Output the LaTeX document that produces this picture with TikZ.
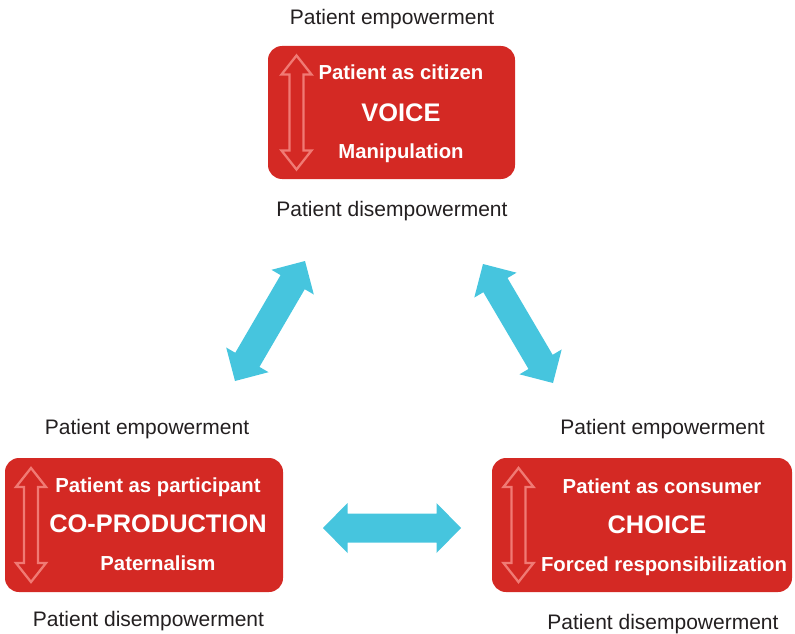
\documentclass[tikz,border=0pt]{standalone}
\usepackage{fontspec}
\setmainfont{Liberation Sans}
\usetikzlibrary{calc}
\definecolor{boxred}{RGB}{212,41,36}
\definecolor{arrblue}{RGB}{70,197,222}
\definecolor{pinkline}{RGB}{240,122,116}
\definecolor{labgray}{RGB}{35,31,32}
\newcommand\dblarr[6]{%
  \coordinate (h1) at ($(#1)!#5!(#2)$);
  \coordinate (h2) at ($(#2)!#5!(#1)$);
  \path[#6] (#1) -- ($(h1)!#4!-90:(#2)$) -- ($(h1)!#3!-90:(#2)$)
    -- ($(h2)!#3!90:(#1)$) -- ($(h2)!#4!90:(#1)$) -- (#2)
    -- ($(h2)!#4!-90:(#1)$) -- ($(h2)!#3!-90:(#1)$)
    -- ($(h1)!#3!90:(#2)$) -- ($(h1)!#4!90:(#2)$) -- cycle;
}
\tikzset{
  redbox/.style={fill=boxred, rounded corners=14pt, inner sep=0pt},
  lab/.style={text=labgray, inner sep=0pt, text height=15pt, text depth=0pt,
    font=\fontsize{21}{25}\selectfont},
  sub/.style={text=white, inner sep=0pt, text height=14.5pt, text depth=0pt,
    font=\fontsize{20.3}{24}\selectfont\bfseries},
  big/.style={text=white, inner sep=0pt, text height=18.1pt, text depth=0pt,
    font=\fontsize{25.4}{30}\selectfont\bfseries},
  bluearr/.style={fill=arrblue},
  innerarr/.style={draw=pinkline, line width=2.3pt, line join=miter, miter limit=10},
}
\begin{document}
\begin{tikzpicture}[x=1pt,y=-1pt]
\useasboundingbox (0,0) rectangle (795,634);
% boxes
\node[redbox, minimum width=247pt, minimum height=133pt] (voice) at (391.5,112.5) {};
\node[redbox, minimum width=278pt, minimum height=134pt] (coprod) at (144,525) {};
\node[redbox, minimum width=300pt, minimum height=134pt] (choice) at (642,525) {};
% top box texts
\node[sub] (vt) at (401,72) {Patient as citizen};
\node[big] (vm) at (401,112) {VOICE};
\node[sub] (vb) at (401,151) {Manipulation};
% left box texts
\node[sub] (ct) at (158,485) {Patient as participant};
\node[big] (cm) at (158,523) {CO-PRODUCTION};
\node[sub] (cb) at (158,563) {Paternalism};
% right box texts
\node[sub] (ht) at (662,486) {Patient as consumer};
\node[big] (hm) at (657,524) {CHOICE};
\node[sub] (hb) at (664,564) {Forced responsibilization};
% outside labels
\node[lab] (l1) at (392,17) {Patient empowerment};
\node[lab] (l2) at (392,209) {Patient disempowerment};
\node[lab] (l3) at (147,427) {Patient empowerment};
\node[lab] (l4) at (148.5,619) {Patient disempowerment};
\node[lab] (l5) at (662.5,427) {Patient empowerment};
\node[lab] (l6) at (663,622) {Patient disempowerment};
% inner arrows
\coordinate (va) at (296.5,55.5);
\coordinate (vz) at (296.5,169.5);
\coordinate (ca) at (31,468);
\coordinate (cz) at (31,582);
\coordinate (ha) at (518.5,468);
\coordinate (hz) at (518.5,582);
\dblarr{va}{vz}{7pt}{15pt}{19pt}{innerarr}
\dblarr{ca}{cz}{7pt}{15pt}{19pt}{innerarr}
\dblarr{ha}{hz}{7pt}{15pt}{19pt}{innerarr}
% blue connectors
\coordinate (b1a) at (305,261);
\coordinate (b1b) at (235,381);
\coordinate (b2a) at (483,264);
\coordinate (b2b) at (553,383);
\coordinate (b3a) at (323,528);
\coordinate (b3b) at (461,528);
\dblarr{b1a}{b1b}{14pt}{24.5pt}{24.5pt}{bluearr}
\dblarr{b2a}{b2b}{14pt}{24.5pt}{24.5pt}{bluearr}
\dblarr{b3a}{b3b}{14.5pt}{25pt}{24.5pt}{bluearr}
\end{tikzpicture}
\end{document}
